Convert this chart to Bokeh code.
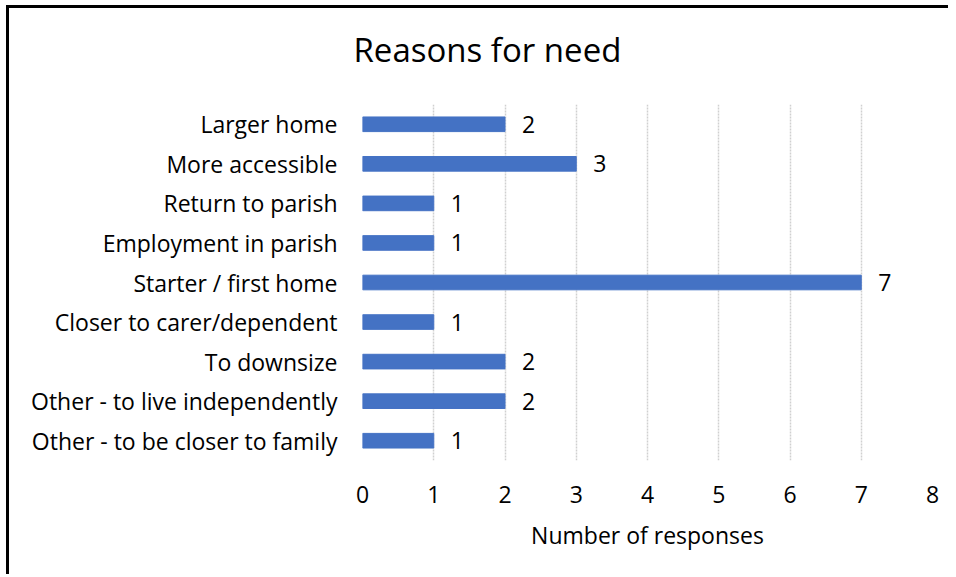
from bokeh.plotting import figure
from bokeh.models import FactorRange, Range1d, ColumnDataSource, Title, InlineStyleSheet
from bokeh.core.properties import value
from bokeh.embed import file_html
from bokeh.resources import INLINE

categories = [
    "Larger home",
    "More accessible",
    "Return to parish",
    "Employment in parish",
    "Starter / first home",
    "Closer to carer/dependent",
    "To downsize",
    "Other - to live independently",
    "Other - to be closer to family",
]
responses = [2, 3, 1, 1, 7, 1, 2, 2, 1]
x_ticks = [0, 1, 2, 3, 4, 5, 6, 7, 8]

FONT = "Open Sans"
FS = "23px"

src = ColumnDataSource(data=dict(cat=categories, val=responses,
                                 lbl=[str(v) for v in responses]))

p = figure(
    width=942, height=569,
    y_range=FactorRange(factors=list(reversed(categories)), range_padding=0),
    x_range=Range1d(0, 8),
    output_backend="svg", toolbar_location=None,
    min_border_left=353, min_border_right=19,
    min_border_top=96, min_border_bottom=117,
)
p.stylesheets = [InlineStyleSheet(css=":host { margin-left: 6px; margin-top: 5px; "
                                      "border-top: 3px solid black; border-left: 3px solid black; }")]

# main title (outermost panel)
p.title.text = "Reasons for  need"
p.title.align = "left"
p.title.offset = -9
p.title.standoff = 4
p.title.text_font = FONT
p.title.text_font_size = "33px"
p.title.text_font_style = "normal"
p.title.text_color = "#000000"

# invisible spacer between title and plot area
spacer = Title(text=" ", text_font=FONT, text_font_size="10px", standoff=15,
               text_color="#ffffff")
p.add_layout(spacer, "above")

p.hbar(y="cat", right="val", left=0, height=0.37, source=src,
       fill_color="#4472C4", line_color="#4472C4")
p.text(x="val", y="cat", text="lbl", source=src, x_offset=17,
       text_align="left", text_baseline="middle",
       text_font=value(FONT), text_font_size=FS, text_color="#000000")

p.outline_line_color = None
p.ygrid.grid_line_color = None
p.xgrid.grid_line_color = "#d0d0d0"
p.xgrid.grid_line_width = 1.5
p.xgrid.grid_line_dash = "2 1"
p.xaxis.ticker = x_ticks

for ax in (p.xaxis[0], p.yaxis[0]):
    ax.axis_line_color = None
    ax.major_tick_line_color = None
    ax.minor_tick_line_color = None
    ax.major_tick_out = 0
    ax.minor_tick_out = 0
    ax.major_label_text_font = FONT
    ax.major_label_text_font_size = FS
    ax.major_label_text_color = "#000000"

p.xaxis.major_label_standoff = 25
p.yaxis.major_label_standoff = 25
p.xaxis.axis_label = "Number of responses"
p.xaxis.axis_label_text_font = FONT
p.xaxis.axis_label_text_font_size = FS
p.xaxis.axis_label_text_font_style = "normal"
p.xaxis.axis_label_text_color = "#000000"
p.xaxis.axis_label_standoff = 13

open("out.html", "w").write(file_html(p, INLINE))
